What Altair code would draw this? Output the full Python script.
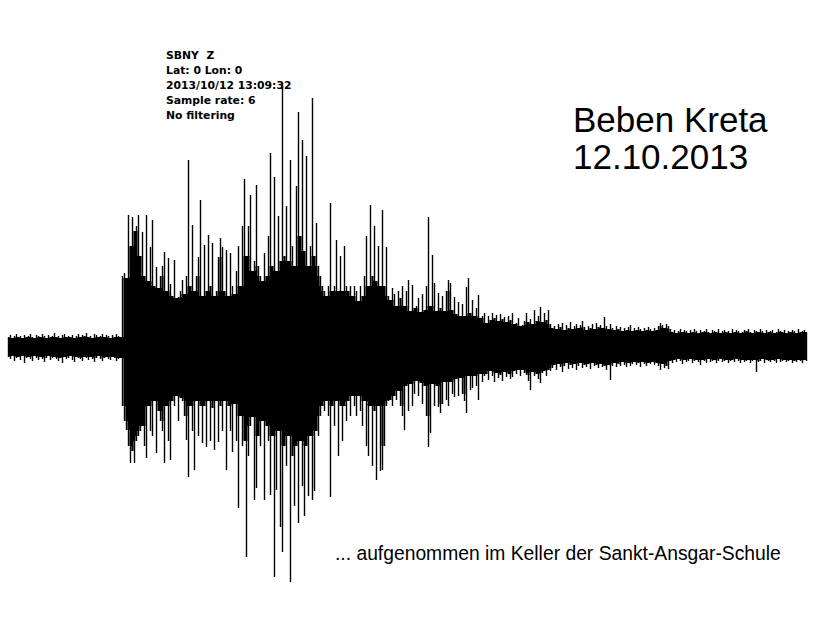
import altair as alt
import pandas as pd

# Seismogram SBNY Z, drawn as per-column min/max envelope (one column per second)
# Upper extreme of each column (counts)
trace_hi = [
    # pre-event noise
    9, 11, 8, 10, 12, 9, 10, 8, 11, 9,
    10, 12, 9, 8, 11, 10, 9, 12, 10, 8,
    11, 9, 10, 13, 9, 10, 8, 11, 12, 9,
    10, 9, 11, 8, 10, 12, 9, 11, 10, 13,
    9, 10, 8, 12, 11, 9, 10, 12, 9, 11,
    10, 8, 11, 9, 12, 10, 9,
    # P onset and early phase
    70, 73, 68, 131, 100, 129, 115, 120, 131, 90,
    114, 70, 131, 65, 99, 126, 60, 79, 58, 70,
    80, 94, 55, 88, 62, 50, 86, 48, 49, 55,
    66, 52, 70, 186, 60, 121, 55, 70, 89, 146,
    50, 101, 55, 111, 60, 103, 50, 55, 89, 108,
    99, 55, 96, 50, 93, 60, 52, 75, 100, 60,
    # main shaking
    120, 167, 90, 120, 151, 75, 85, 161, 80, 70,
    65, 93, 70, 110, 193, 80, 169, 75, 130, 85,
    263, 90, 140, 85, 186, 100, 80, 160, 234, 110,
    206, 95, 190, 80, 100, 248, 90, 123, 80, 70,
    60, 55, 50, 60, 143, 55, 60, 106, 55, 90,
    55, 100, 60, 55, 60, 50, 60, 55, 45, 60,
    50, 70, 110, 60, 141, 70, 120, 65, 100, 60,
    136, 60, 99, 50, 46, 58, 52, 40, 55, 48,
    60, 40, 55, 66, 35, 61, 38, 40, 48, 34,
    52, 36, 60, 129, 40, 91, 63, 35, 53, 38,
    50, 35, 55, 66, 63, 36, 49, 32, 44, 30,
    42, 30, 59, 68, 33, 46, 30, 38, 51, 28,
    # coda
    30, 33, 23, 30, 26, 33, 28, 31, 25, 32,
    27, 29, 24, 30, 26, 33, 22, 23, 28, 20,
    21, 25, 33, 24, 27, 22, 36, 25, 30, 39,
    24, 33, 26, 36, 22, 18, 20, 17, 22, 19,
    23, 16, 21, 18, 24, 17, 20, 22, 18, 21,
    25, 19, 16, 20, 18, 22, 17, 23, 19, 21,
    18, 29, 20, 17, 22, 18, 16, 20, 17, 19,
    15, 18, 16, 19, 21, 15, 18, 16, 19, 17,
    15, 18, 16, 19, 17, 15, 18, 16, 20, 23,
    21, 18, 22, 20,
    17, 14, 16, 13, 15, 17, 14, 16, 15, 13,
    16, 14, 17, 15, 13, 16, 14, 15, 17, 14,
    13, 16, 15, 14, 17, 13, 15, 16, 14, 15,
    13, 17, 14, 16, 15, 13, 14, 16, 15, 17,
    14, 13, 16, 15, 14, 17, 15, 13, 16, 14,
    15, 16, 13, 14, 17, 15, 14, 16, 13, 15,
    14, 16, 15, 13, 17, 14, 15, 16, 14,
]

# Lower extreme of each column (counts)
trace_lo = [
    -11, -13, -10, -15, -12, -11, -14, -10, -17, -12,
    -11, -13, -15, -10, -12, -14, -11, -13, -16, -12,
    -10, -14, -12, -11, -13, -15, -12, -17, -11, -13,
    -12, -10, -14, -16, -11, -12, -13, -15, -11, -12,
    -14, -11, -13, -16, -12, -10, -13, -15, -12, -11,
    -13, -14, -11, -12, -15, -13, -12,
    -60, -75, -84, -100, -117, -105, -117, -95, -90, -85,
    -80, -100, -112, -60, -85, -90, -55, -107, -65, -75,
    -85, -117, -60, -95, -114, -55, -60, -50, -75, -52,
    -55, -70, -94, -131, -60, -85, -124, -55, -90, -60,
    -97, -60, -101, -55, -95, -62, -104, -55, -96, -60,
    -85, -55, -124, -60, -85, -106, -58, -95, -162, -70,
    -100, -95, -211, -110, -80, -71, -154, -142, -90, -100,
    -75, -154, -80, -95, -149, -90, -231, -144, -85, -181,
    -206, -100, -120, -90, -236, -110, -160, -100, -177, -95,
    -140, -170, -100, -150, -90, -154, -145, -85, -90, -70,
    -60, -65, -55, -70, -151, -60, -80, -55, -110, -60,
    -95, -60, -75, -55, -70, -50, -60, -70, -50, -65,
    -80, -55, -100, -110, -60, -120, -65, -134, -60, -125,
    -124, -100, -60, -55, -54, -60, -50, -54, -45, -60,
    -70, -84, -40, -65, -38, -60, -48, -35, -50, -37,
    -58, -40, -70, -101, -87, -38, -60, -40, -61, -67,
    -58, -36, -54, -60, -36, -48, -51, -33, -50, -32,
    -48, -55, -67, -30, -44, -42, -30, -40, -54, -28,
    -36, -30, -28, -34, -25, -30, -36, -27, -32, -29,
    -35, -26, -31, -28, -33, -31, -25, -28, -24, -30,
    -24, -27, -29, -35, -44, -26, -30, -28, -33, -37,
    -27, -25, -30, -24, -25, -22, -19, -24, -18, -21,
    -26, -20, -17, -23, -19, -22, -18, -24, -20, -17,
    -22, -19, -21, -18, -23, -17, -20, -19, -22, -18,
    -21, -20, -24, -19, -34, -20, -17, -21, -18, -20,
    -16, -19, -21, -17, -20, -18, -16, -19, -17, -21,
    -16, -18, -20, -17, -18, -16, -19, -17, -20, -24,
    -18, -22, -20, -23,
    -15, -17, -14, -16, -13, -15, -18, -14, -16, -15,
    -13, -17, -15, -14, -16, -19, -14, -15, -17, -13,
    -16, -15, -14, -17, -15, -13, -16, -15, -14, -17,
    -15, -14, -16, -13, -15, -17, -14, -16, -15, -14,
    -17, -15, -14, -26, -16, -15, -13, -17, -14, -15,
    -16, -14, -15, -17, -13, -16, -15, -14, -16, -15,
    -14, -17, -15, -16, -14, -15, -17, -14, -15,
]

header_lines = ["SBNY\u00a0\u00a0Z", "Lat: 0 Lon: 0", "2013/10/12 13:09:32",
                "Sample rate: 6", "No filtering"]
title_lines = ["Beben Kreta", "12.10.2013"]
footnote = "... aufgenommen im Keller der Sankt-Ansgar-Schule"

trace = pd.DataFrame({
    "t": list(range(len(trace_hi))),
    "hi": trace_hi,
    "lo": trace_lo,
})

W, H = 834, 637

x_scale = alt.Scale(domain=[-4.25, 412.75], nice=False, zero=False)
y_scale = alt.Scale(domain=[-291, 346], nice=False, zero=False)

base = alt.Chart(trace)

# solid body of the trace: running min/max of the column extremes
body = base.transform_window(
    core_hi="min(hi)", core_lo="max(lo)", frame=[-1, 1], sort=[{"field": "t"}]
).mark_area(color="black", interpolate="step").encode(
    x=alt.X("t:Q", scale=x_scale, axis=None),
    y=alt.Y("core_lo:Q", scale=y_scale, axis=None),
    y2="core_hi:Q",
)

# individual swings as thin vertical strokes
spikes = base.mark_rule(color="black", strokeWidth=1.4).encode(
    x=alt.X("t:Q", scale=x_scale, axis=None),
    y=alt.Y("lo:Q", scale=y_scale, axis=None),
    y2="hi:Q",
)

header = alt.Chart(pd.DataFrame({"line": header_lines, "k": list(range(len(header_lines)))})).mark_text(
    align="left", baseline="alphabetic", font="DejaVu Sans", fontWeight="bold",
    fontSize=10.8, color="black",
).encode(
    x=alt.value(166),
    y=alt.Y("k:Q", scale=alt.Scale(domain=[0, 4], range=[58.5, 118.5]), axis=None),
    text="line:N",
)

title = alt.Chart(pd.DataFrame({"line": title_lines, "k": [0, 1]})).mark_text(
    align="left", baseline="alphabetic", font="Liberation Sans", fontSize=35, color="black",
).encode(
    x=alt.value(573),
    y=alt.Y("k:Q", scale=alt.Scale(domain=[0, 1], range=[132, 168.5]), axis=None),
    text="line:N",
)

note = alt.Chart(pd.DataFrame({"line": [footnote]})).mark_text(
    align="left", baseline="alphabetic", font="Liberation Sans", fontSize=19.3, color="black",
).encode(
    x=alt.value(335),
    y=alt.value(560),
    text="line:N",
)

chart = alt.layer(body, spikes, header, title, note).resolve_scale(y="independent").properties(
    width=W, height=H, padding=0, autosize="none", background="white",
).configure_view(strokeWidth=0)

chart.save("out.html", embed_options={"renderer": "svg", "actions": False})
